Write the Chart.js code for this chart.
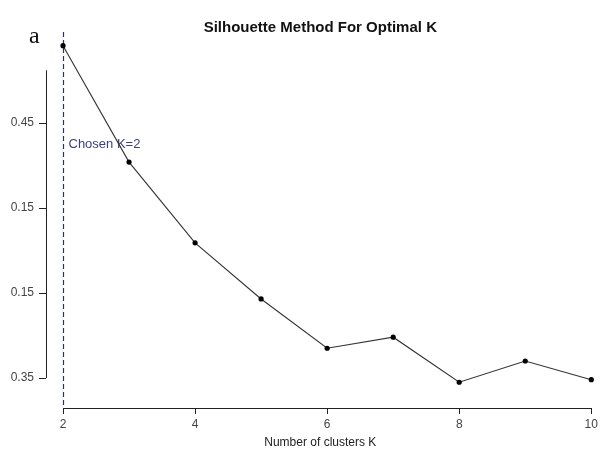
<!DOCTYPE html>
<html>
<head>
<meta charset="utf-8">
<script src="https://cdn.jsdelivr.net/npm/chart.js@4/dist/chart.umd.min.js"></script>
<style>
  html, body { margin: 0; padding: 0; background: #fff; }
  #wrap { width: 601px; height: 450px; }
</style>
</head>
<body>
<div id="wrap"><canvas id="chart" width="601" height="450"></canvas></div>
<script>
// number of clusters K
const clusters = [2, 3, 4, 5, 6, 7, 8, 9, 10];
// silhouette values, in units of the y tick slots (0 = lowest tick)
const silhouette = [3.91, 2.54, 1.59, 0.93, 0.35, 0.48, -0.05, 0.20, -0.02];

const xTicks = [2, 4, 6, 8, 10];
const yTickValues = [0, 1, 2, 3];
const yTickLabels = ['0.35', '0.15', '0.15', '0.45'];

const chosenK = 2;
const chosenLabel = 'Chosen K=2';

const axisColor = '#222';
const labelColor = '#444';

// R-style axis lines, the chosen-K marker and the panel letter
const decorations = {
  id: 'decorations',
  beforeDatasetsDraw(chart) {
    const { ctx, chartArea, scales: { x, y } } = chart;
    ctx.save();
    ctx.strokeStyle = axisColor;
    ctx.lineWidth = 1;

    // y axis line
    ctx.beginPath();
    ctx.moveTo(chartArea.left + 0.5, y.getPixelForValue(0));
    ctx.lineTo(chartArea.left + 0.5, y.getPixelForValue(3.62));
    ctx.stroke();

    // x axis line
    ctx.beginPath();
    ctx.moveTo(x.getPixelForValue(xTicks[0]), chartArea.bottom + 0.5);
    ctx.lineTo(x.getPixelForValue(xTicks[xTicks.length - 1]), chartArea.bottom + 0.5);
    ctx.stroke();

    // dashed line at chosen K
    const kx = Math.round(x.getPixelForValue(chosenK)) + 0.5;
    ctx.strokeStyle = '#2a3060';
    ctx.lineWidth = 1.2;
    ctx.setLineDash([5, 3]);
    ctx.beginPath();
    ctx.moveTo(kx, chartArea.top - 5);
    ctx.lineTo(kx, chartArea.bottom);
    ctx.stroke();
    ctx.setLineDash([]);

    ctx.fillStyle = '#3b3f80';
    ctx.font = '13px "Liberation Sans", Arial, sans-serif';
    ctx.textAlign = 'left';
    ctx.textBaseline = 'middle';
    ctx.fillText(chosenLabel, kx + 5, y.getPixelForValue(2.75));

    // panel letter
    ctx.fillStyle = '#111';
    ctx.font = '24px "Liberation Serif", "Times New Roman", serif';
    ctx.textBaseline = 'alphabetic';
    ctx.fillText('a', 29, 43);
    ctx.restore();
  }
};

new Chart(document.getElementById('chart'), {
  type: 'line',
  data: {
    datasets: [{
      data: clusters.map((k, i) => ({ x: k, y: silhouette[i] })),
      borderColor: '#333',
      borderWidth: 1.1,
      pointBackgroundColor: '#000',
      pointBorderColor: '#000',
      pointRadius: 2.6,
      pointBorderWidth: 0,
      tension: 0,
      clip: false
    }]
  },
  options: {
    responsive: false,
    animation: false,
    layout: { padding: { left: 0, right: 1, top: 0, bottom: 0 } },
    plugins: {
      legend: { display: false },
      tooltip: { enabled: false },
      title: {
        display: true,
        text: 'Silhouette Method For Optimal K',
        fullSize: false,
        color: '#111',
        font: { family: '"Liberation Sans", Arial, sans-serif', size: 15, weight: 'bold' },
        padding: { top: 19, bottom: 0 }
      }
    },
    scales: {
      x: {
        type: 'linear',
        min: 1.7424,
        max: 10.05,
        afterBuildTicks: s => { s.ticks = xTicks.map(v => ({ value: v })); },
        afterFit: s => { s.height = 42; },
        grid: { drawOnChartArea: false, drawTicks: true, tickLength: 6, color: axisColor },
        border: { display: false },
        ticks: {
          color: labelColor,
          padding: 3,
          maxRotation: 0,
          font: { family: '"Liberation Sans", Arial, sans-serif', size: 12 }
        },
        title: {
          display: true,
          text: 'Number of clusters K',
          color: '#222',
          padding: { top: 0, bottom: 0 },
          font: { family: '"Liberation Sans", Arial, sans-serif', size: 12 }
        }
      },
      y: {
        type: 'linear',
        min: -0.3529,
        max: 4.0118,
        afterBuildTicks: s => { s.ticks = yTickValues.map(v => ({ value: v })); },
        afterFit: s => { s.width = 46; },
        grid: { drawOnChartArea: false, drawTicks: true, tickLength: 7, color: axisColor },
        border: { display: false },
        ticks: {
          color: labelColor,
          padding: 5,
          font: { family: '"Liberation Sans", Arial, sans-serif', size: 12 },
          callback: (v) => yTickLabels[yTickValues.indexOf(v)]
        }
      }
    }
  },
  plugins: [decorations]
});
</script>
</body>
</html>
